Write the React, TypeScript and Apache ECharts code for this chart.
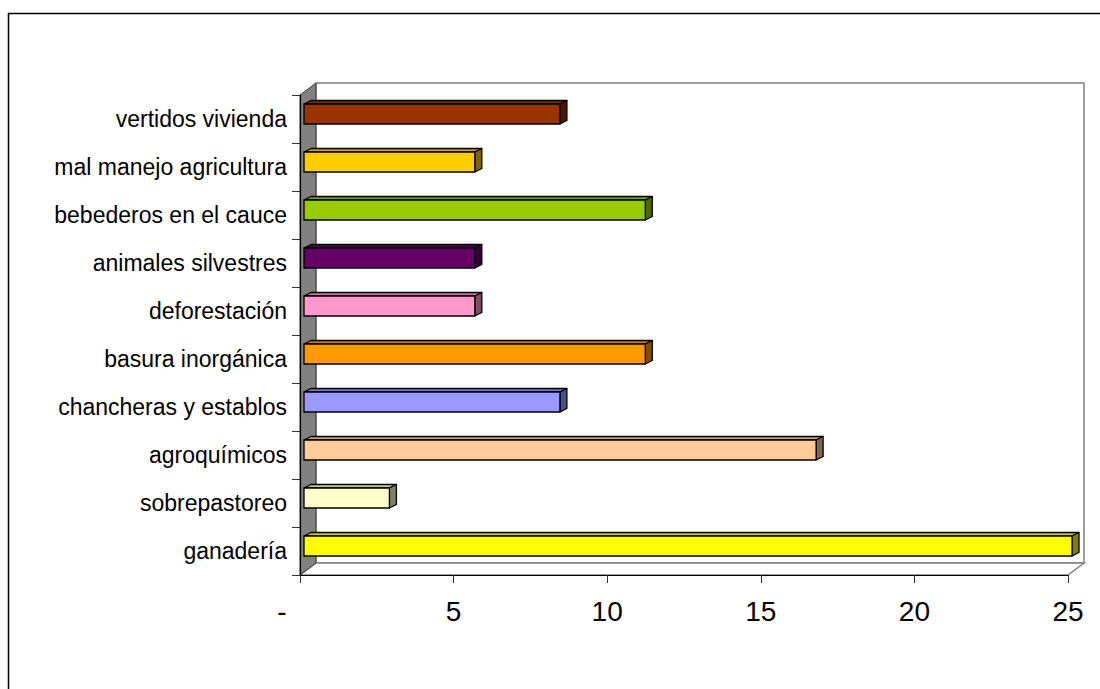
import React, { useEffect, useRef } from "react";
import * as echarts from "echarts";

// Categories listed bottom to top (category axis grows upward)
const categories = [
  "ganadería",
  "sobrepastoreo",
  "agroquímicos",
  "chancheras y establos",
  "basura inorgánica",
  "deforestación",
  "animales silvestres",
  "bebederos en el cauce",
  "mal manejo agricultura",
  "vertidos vivienda",
];

const values = [25.0, 2.78, 16.67, 8.33, 11.11, 5.56, 5.56, 11.11, 5.56, 8.33];

const barColors = [
  "#FFFF00",
  "#FFFFCC",
  "#FFCC99",
  "#9999FF",
  "#FF9900",
  "#FF99CC",
  "#660066",
  "#99CC00",
  "#FFCC00",
  "#993300",
];

const xTicks = [0, 5, 10, 15, 20, 25];

const FONT = "'Liberation Sans', Arial, sans-serif";

function shade(hex: string, f: number): string {
  const n = parseInt(hex.slice(1), 16);
  const r = Math.round(((n >> 16) & 255) * f);
  const g = Math.round(((n >> 8) & 255) * f);
  const b = Math.round((n & 255) * f);
  return `rgb(${r},${g},${b})`;
}

export default function App() {
  const ref = useRef<HTMLDivElement>(null);

  useEffect(() => {
    if (!ref.current) return;
    const chart = echarts.init(ref.current, null, { renderer: "svg" });

    const gridLeft = 300;
    const gridTop = 95;
    const gridW = 768;
    const gridH = 480;
    const depthX = 16;
    const depthY = 12;

    const option: any = {
      animation: false,
      backgroundColor: "#ffffff",
      grid: { left: gridLeft, top: gridTop, width: gridW, height: gridH },
      graphic: [
        // outer chart frame
        {
          type: "rect",
          z: 0,
          shape: { x: 8.5, y: 13.5, width: 1200, height: 800 },
          style: { fill: "none", stroke: "#000", lineWidth: 1.5 },
        },
        // back wall
        {
          type: "rect",
          z: 1,
          shape: {
            x: gridLeft + depthX,
            y: gridTop - depthY,
            width: gridW,
            height: gridH,
          },
          style: { fill: "#ffffff", stroke: "#808080", lineWidth: 1.5 },
        },
        // floor
        {
          type: "polygon",
          z: 1,
          shape: {
            points: [
              [gridLeft, gridTop + gridH],
              [gridLeft + depthX, gridTop + gridH - depthY],
              [gridLeft + gridW + depthX, gridTop + gridH - depthY],
              [gridLeft + gridW, gridTop + gridH],
            ],
          },
          style: { fill: "#ffffff", stroke: "#808080", lineWidth: 1.5 },
        },
        // side wall
        {
          type: "polygon",
          z: 1,
          shape: {
            points: [
              [gridLeft, gridTop],
              [gridLeft + depthX, gridTop - depthY],
              [gridLeft + depthX, gridTop + gridH - depthY],
              [gridLeft, gridTop + gridH],
            ],
          },
          style: { fill: "#808080", stroke: "#404040", lineWidth: 1 },
        },
      ],
      xAxis: {
        type: "value",
        min: 0,
        max: 25,
        interval: 5,
        z: 10,
        splitLine: { show: false },
        axisLine: { show: true, lineStyle: { color: "#000", width: 1.2 } },
        axisTick: { show: true, length: 8, lineStyle: { color: "#333" } },
        axisLabel: {
          margin: 22,
          color: "#000",
          fontSize: 28,
          fontFamily: FONT,
          formatter: (v: number) =>
            v === 0 ? "{d|-}" : xTicks.includes(v) ? String(v) : "",
          rich: {
            d: {
              fontSize: 28,
              fontFamily: FONT,
              color: "#000",
              padding: [0, 36, 0, 0],
            },
          },
        },
      },
      yAxis: {
        type: "category",
        data: categories,
        z: 10,
        axisLine: { show: true, lineStyle: { color: "#000", width: 1.2 } },
        axisTick: { show: true, length: 8, lineStyle: { color: "#333" } },
        axisLabel: {
          margin: 13,
          color: "#000",
          fontSize: 23,
          fontFamily: FONT,
        },
      },
      series: [
        {
          type: "custom",
          z: 5,
          data: values.map((v, i) => [v, i]),
          encode: { x: 0, y: 1 },
          renderItem: (params: any, api: any) => {
            const v = api.value(0);
            const idx = api.value(1);
            const p0 = api.coord([0, idx]);
            const p1 = api.coord([v, idx]);
            const color = barColors[idx];
            const x0 = p0[0] + 4;
            const x1 = p1[0] + 4;
            const yTop = p0[1] - 15;
            const yBot = p0[1] + 5;
            const dx = 7;
            const dy = 3.5;
            const stroke = { stroke: "#000", lineWidth: 1.3, lineJoin: "round" };
            return {
              type: "group",
              children: [
                {
                  type: "polygon",
                  shape: {
                    points: [
                      [x0, yTop],
                      [x0 + dx, yTop - dy],
                      [x1 + dx, yTop - dy],
                      [x1, yTop],
                    ],
                  },
                  style: { fill: shade(color, 0.78), ...stroke },
                },
                {
                  type: "polygon",
                  shape: {
                    points: [
                      [x1, yTop],
                      [x1 + dx, yTop - dy],
                      [x1 + dx, yBot - dy],
                      [x1, yBot],
                    ],
                  },
                  style: { fill: shade(color, 0.5), ...stroke },
                },
                {
                  type: "rect",
                  shape: { x: x0, y: yTop, width: x1 - x0, height: yBot - yTop },
                  style: { fill: color, ...stroke },
                },
              ],
            };
          },
        },
      ],
    };

    chart.setOption(option);
    return () => chart.dispose();
  }, []);

  return (
    <div
      ref={ref}
      style={{ position: "absolute", left: 0, top: 0, width: 1100, height: 689 }}
    />
  );
}
